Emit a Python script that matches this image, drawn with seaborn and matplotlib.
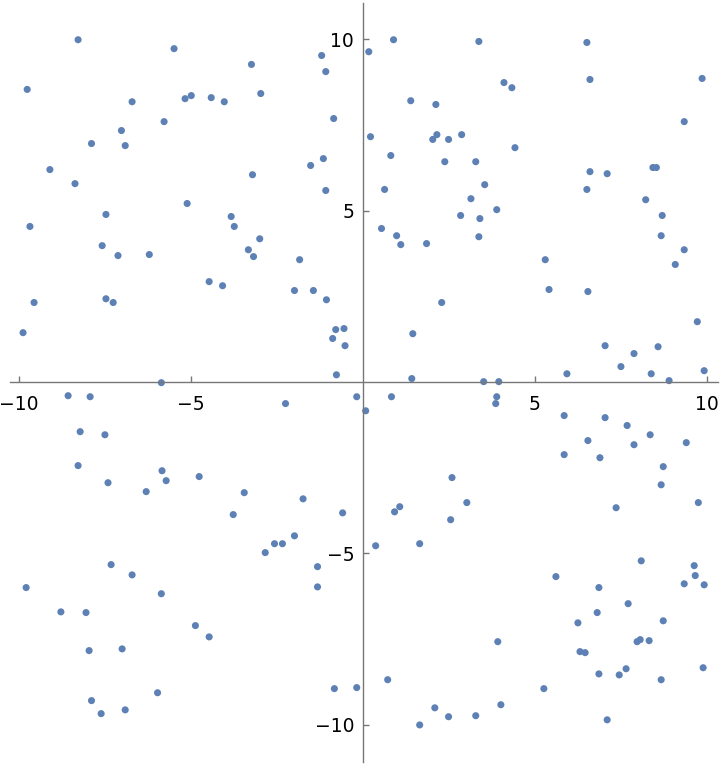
import numpy as np
import pandas as pd
import matplotlib
matplotlib.use("Agg")
import matplotlib.pyplot as plt
import seaborn as sns
from matplotlib.ticker import MultipleLocator, FixedLocator

# points, one list per quadrant
q1_x = [-8.27, -5.48, -9.75, -6.70, -5.16, -4.98, -4.40, -4.02, -3.23, -2.96, -1.19, -1.07,
        -0.84, -5.77, -7.01, -7.88, -6.90, -9.09, -8.36, -1.51, -1.14, -3.20, -1.07, -5.10,
        -7.46, -9.67, -3.82, -3.73, -7.57, -7.11, -6.20, -2.99, -3.32, -3.17, -1.83, -4.46,
        -4.07, -1.98, -1.43, -1.05, -9.55, -7.46, -7.25, -9.87, -0.78, -0.54, -0.87, -0.51,
        -0.76, -5.85]
q1_y = [9.99, 9.73, 8.54, 8.18, 8.27, 8.36, 8.30, 8.18, 9.27, 8.42, 9.53, 9.06,
        7.69, 7.60, 7.34, 6.96, 6.90, 6.20, 5.79, 6.32, 6.52, 6.05, 5.59, 5.21,
        4.89, 4.54, 4.83, 4.54, 3.98, 3.69, 3.72, 4.18, 3.86, 3.66, 3.57, 2.93,
        2.81, 2.67, 2.67, 2.40, 2.32, 2.43, 2.32, 1.44, 1.53, 1.56, 1.27, 1.06,
        0.21, -0.02]

q2_x = [0.18, 0.90, 3.38, 6.52, 6.61, 9.87, 4.11, 4.34, 1.40, 2.13, 0.23, 2.04, 2.16,
        2.50, 2.88, 4.43, 9.35, 0.82, 2.39, 3.29, 6.61, 7.11, 8.44, 8.54, 0.64, 3.55,
        6.52, 3.15, 8.23, 3.90, 2.85, 3.41, 8.71, 0.55, 0.99, 1.11, 1.86, 3.38, 8.68,
        9.35, 9.09, 5.31, 5.42, 6.55, 2.30, 9.73, 1.46, 7.05, 8.59, 7.89, 7.51, 5.94,
        8.39, 9.93, 1.43, 3.52, 3.96, 8.91]
q2_y = [9.64, 9.99, 9.94, 9.91, 8.83, 8.86, 8.74, 8.59, 8.21, 8.10, 7.16, 7.08, 7.22,
        7.08, 7.22, 6.84, 7.60, 6.61, 6.43, 6.43, 6.14, 6.08, 6.26, 6.26, 5.62, 5.76,
        5.62, 5.35, 5.32, 5.03, 4.86, 4.77, 4.86, 4.48, 4.27, 4.01, 4.04, 4.24, 4.27,
        3.86, 3.43, 3.57, 2.70, 2.64, 2.32, 1.76, 1.41, 1.06, 1.03, 0.83, 0.45, 0.24,
        0.24, 0.33, 0.10, 0.01, 0.01, 0.04]

q3_x = [-8.56, -7.92, -2.24, -0.17, -8.21, -7.49, -8.27, -7.40, -5.83, -5.71, -4.75,
        -6.29, -3.44, -3.76, -1.73, -0.58, -1.98, -2.56, -2.33, -2.83, -1.31, -1.31,
        -7.31, -6.70, -9.78, -5.85, -8.77, -8.04, -4.86, -4.46, -7.95, -6.99, -5.96,
        -7.88, -7.60, -6.90, -0.82, -0.17]
q3_y = [-0.40, -0.43, -0.63, -0.43, -1.45, -1.54, -2.44, -2.94, -2.59, -2.88, -2.76,
        -3.20, -3.23, -3.87, -3.41, -3.82, -4.49, -4.72, -4.72, -4.98, -5.39, -5.98,
        -5.33, -5.63, -6.00, -6.18, -6.71, -6.73, -7.11, -7.44, -7.84, -7.79, -9.07,
        -9.30, -9.68, -9.57, -8.95, -8.92]

q4_x = [0.09, 0.84, 3.90, 3.87, 5.86, 7.05, 7.69, 8.36, 9.41, 6.55, 7.89, 5.86, 6.90,
        8.74, 8.68, 9.76, 7.37, 2.60, 3.03, 2.56, 1.08, 0.93, 0.38, 1.66, 8.10, 9.64,
        9.67, 5.62, 9.35, 9.93, 6.87, 7.72, 6.82, 6.26, 8.74, 3.93, 7.98, 8.07, 8.33,
        6.32, 6.47, 6.87, 7.46, 7.66, 8.68, 9.90, 0.73, 5.27, 2.10, 2.50, 3.29, 4.02,
        1.66, 7.11]
q4_y = [-0.84, -0.43, -0.43, -0.63, -0.98, -1.04, -1.27, -1.54, -1.77, -1.71, -1.83,
        -2.12, -2.21, -2.47, -3.00, -3.52, -3.67, -2.79, -3.52, -4.02, -3.64, -3.79,
        -4.78, -4.72, -5.22, -5.36, -5.65, -5.68, -5.89, -5.92, -6.00, -6.47, -6.73,
        -7.03, -6.97, -7.58, -7.58, -7.52, -7.55, -7.87, -7.90, -8.52, -8.55, -8.37,
        -8.69, -8.34, -8.69, -8.95, -9.51, -9.77, -9.74, -9.42, -10.01, -9.86]

df = pd.DataFrame({
    'x': q1_x + q2_x + q3_x + q4_x,
    'y': q1_y + q2_y + q3_y + q4_y,
})

sns.set_style('white')
plt.rcParams['font.family'] = ['DejaVu Sans']

axis_grey = '#777777'
point_blue = '#5E81B5'

fig = plt.figure(figsize=(7.2, 7.64), dpi=100)
ax = fig.add_axes([0, 0, 1, 1])

sns.scatterplot(data=df, x='x', y='y', ax=ax, color=point_blue, s=26,
                edgecolor='none', linewidth=0, legend=False)

ax.set_xlim(-10.54, 10.39)
ax.set_ylim(-11.15, 11.15)

# Mathematica style axes through the origin
for side in ['top', 'right']:
    ax.spines[side].set_visible(False)
ax.spines['left'].set_position(('data', 0))
ax.spines['bottom'].set_position(('data', 0))
ax.spines['bottom'].set_bounds(-10.25, 10.33)
ax.spines['left'].set_bounds(-11.09, 11.07)
for side in ['left', 'bottom']:
    ax.spines[side].set_color(axis_grey)
    ax.spines[side].set_linewidth(1.0)

ax.xaxis.set_major_locator(FixedLocator([-10, -5, 5, 10]))
ax.yaxis.set_major_locator(FixedLocator([-10, -5, 5, 10]))
ax.xaxis.set_minor_locator(MultipleLocator(1))
ax.yaxis.set_minor_locator(MultipleLocator(1))
ax.set_xticklabels(['\u221210', '\u22125', '5', '10'])
ax.set_yticklabels(['\u221210', '\u22125', '5', '10'])

ax.tick_params(axis='x', which='major', direction='in', length=4.5, width=1,
               color=axis_grey, labelcolor='black', labelsize=13.5, pad=9,
               bottom=True, top=False)
ax.tick_params(axis='y', which='major', direction='in', length=4.5, width=1,
               color=axis_grey, labelcolor='black', labelsize=13.5, pad=6,
               left=True, right=False)
ax.tick_params(axis='both', which='minor', direction='in', length=2.8, width=0.8,
               color=axis_grey)

ax.set_xlabel('')
ax.set_ylabel('')
ax.set_facecolor('white')

plt.savefig('out.png', dpi=100)
plt.close()
